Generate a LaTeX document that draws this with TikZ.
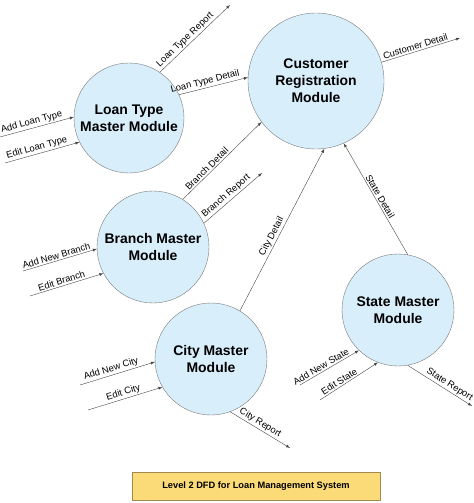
\documentclass[tikz,border=0pt]{standalone}
\usepackage{fontspec}
\setmainfont{Liberation Sans}
\usepackage{tikz}
\usetikzlibrary{arrows}
\definecolor{procfill}{HTML}{D8EEFA}
\definecolor{procline}{HTML}{7A7A7A}
\definecolor{flowline}{HTML}{444444}
\definecolor{titlefill}{HTML}{FBDB78}
\definecolor{titleline}{HTML}{A08A50}

\begin{document}
\begin{tikzpicture}[x=1bp,y=-1bp,
    proc/.style={circle, draw=procline, fill=procfill, align=center, inner sep=0pt,
      font=\bfseries\fontsize{14}{17}\selectfont},
    flow/.style={draw=flowline, -latex},
    lbl/.style={sloped, above, inner sep=1.5pt, font=\fontsize{9.4}{11}\selectfont}]
      \useasboundingbox (0,0) rectangle (474,503);

      \node[proc, minimum size=136bp] (crm) at (316,81) {Customer\\Registration\\Module};
      \node[proc, minimum size=110bp] (ltm) at (129,118) {Loan Type\\Master Module};
      \node[proc, minimum size=112bp] (bm) at (153,247) {Branch Master\\Module};
      \node[proc, minimum size=112bp] (cm) at (211,359) {City Master\\Module};
      \node[proc, minimum size=112bp] (sm) at (398,310) {State Master\\Module};

      \coordinate (addlt) at (0,137);
      \coordinate (editlt) at (5,163);
      \coordinate (ltrep) at (230,5);
      \coordinate (custout) at (460,38);
      \coordinate (addbr) at (23,271);
      \coordinate (editbr) at (30,296);
      \coordinate (brrep) at (262,173);
      \coordinate (addcity) at (80,385);
      \coordinate (editcity) at (88,410);
      \coordinate (cityrep) at (290,448);
      \coordinate (addst) at (300,385);
      \coordinate (editst) at (320,400);
      \coordinate (strep) at (472,406);

      \draw[flow] (addlt) -- node[lbl, pos=.45] {Add Loan Type} (ltm.179);
      \draw[flow] (editlt) -- node[lbl, pos=.45] {Edit Loan Type} (ltm.206);
      \draw[flow] (ltm.56) -- node[lbl, pos=.42] {Loan Type Report} (ltrep);
      \draw[flow] (ltm.25) -- node[lbl, pos=.4] {Loan Type Detail} (crm.177);
      \draw[flow] (crm.16) -- node[lbl, pos=.45] {Customer Detail} (custout);

      \draw[flow] (bm.58) -- node[lbl, pos=.35] {Branch Detail} (crm.217);
      \draw[flow] (bm.25) -- node[lbl, pos=.45] {Branch Report} (brrep);
      \draw[flow] (addbr) -- node[lbl, pos=.47] {Add New Branch} (bm.182);
      \draw[flow] (editbr) -- node[lbl, pos=.45] {Edit Branch} (bm.208);

      \draw[flow] (cm.59) -- node[lbl, pos=.44] {City Detail} (crm.277);
      \draw[flow] (addcity) -- node[lbl, pos=.44] {Add New City} (cm.183);
      \draw[flow] (editcity) -- node[lbl, pos=.5] {Edit City} (cm.210);
      \draw[flow] (cm.290) -- node[lbl, pos=.45] {City Report} (cityrep);

      \draw[flow] (sm.80) -- node[lbl, pos=.5] {State Detail} (crm.294);
      \draw[flow] (addst) -- node[lbl, pos=.4] {Add New State} (sm.226);
      \draw[flow] (editst) -- node[lbl, pos=.38] {Edit State} (sm.249);
      \draw[flow] (sm.280) -- node[lbl, pos=.6] {State Report} (strep);

      \node[draw=titleline, fill=titlefill, minimum width=248bp, minimum height=28bp,
        font=\bfseries\fontsize{9.3}{11}\selectfont] (title) at (256,486)
        {Level 2 DFD for Loan Management System};
    \end{tikzpicture}
\end{document}
